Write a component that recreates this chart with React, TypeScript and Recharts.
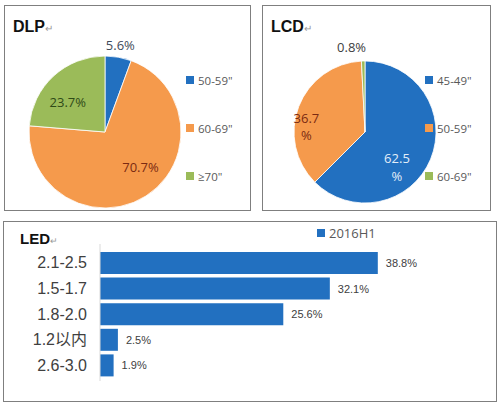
import React from "react";
import { PieChart, Pie, Cell, Legend, BarChart, Bar, XAxis, YAxis, LabelList } from "recharts";

const dlpLabels = ['50-59"', '60-69"', "≥70\""];
const dlpValues = [5.6, 70.7, 23.7];

const lcdLabels = ['45-49"', '50-59"', '60-69"'];
const lcdValues = [62.5, 36.7, 0.8];

const ledCategories = ["2.1-2.5", "1.5-1.7", "1.8-2.0", "1.2以内", "2.6-3.0"];
const ledValues = [38.8, 32.1, 25.6, 2.5, 1.9];
const ledSeriesName = "2016H1";

const BLUE = "#2270c0";
const ORANGE = "#f59a4c";
const GREEN = "#9bbb59";
const sliceColors = [BLUE, ORANGE, GREEN];
const lcdColors = [BLUE, ORANGE, GREEN];

const LABEL_FONT = "'Open Sans', 'Noto Sans', sans-serif";
const TITLE_FONT = "'Liberation Sans', Arial, sans-serif";

const dlpData = dlpLabels.map((name, i) => ({ name, value: dlpValues[i] }));
const lcdData = lcdLabels.map((name, i) => ({ name, value: lcdValues[i] }));
const ledData = ledCategories.map((name, i) => ({ name, value: ledValues[i] }));

// where each slice label sits: [angle in degrees, radius as share of the pie radius]
const dlpLabelSpots: [number, number][] = [[80, 1.16], [-45, 0.66], [141, 0.63]];
const dlpLabelColors = ["#3f4b5a", "#7a2a12", "#2f4a17"];
const lcdLabelSpots: [number, number][] = [[-47, 0.66], [174, 0.83], [99, 1.21]];
const lcdLabelColors = ["#e4eef9", "#7a2a12", "#404040"];
const lcdSplit = [true, true, false];

const RAD = Math.PI / 180;

function makePieLabel(spots: [number, number][], colors: string[], split?: boolean[]) {
  return (props: any) => {
    const { cx, cy, outerRadius, index, value } = props;
    const [ang, k] = spots[index];
    const x = cx + Math.cos(ang * RAD) * outerRadius * k;
    const y = cy - Math.sin(ang * RAD) * outerRadius * k;
    const txt = `${value}%`;
    if (split && split[index]) {
      return (
        <text x={x} y={y} textAnchor="middle" fill={colors[index]} fontSize={13} fontFamily={LABEL_FONT}>
          <tspan x={x} dy="-0.25em">{`${value}`}</tspan>
          <tspan x={x} dy="1.35em">%</tspan>
        </text>
      );
    }
    return (
      <text x={x} y={y} textAnchor="middle" dominantBaseline="central" fill={colors[index]} fontSize={13} fontFamily={LABEL_FONT}>
        {txt}
      </text>
    );
  };
}

function PieLegend({ payload }: any) {
  return (
    <div>
      {(payload || []).map((p: any) => (
        <div key={p.value} style={{ display: "flex", alignItems: "center", height: 48, fontFamily: LABEL_FONT, fontSize: 11.5, color: "#595959" }}>
          <span style={{ width: 8, height: 8, background: p.color, marginRight: 4, display: "inline-block" }} />
          {p.value}
        </div>
      ))}
    </div>
  );
}

function Title({ text, left, top, size }: { text: string; left: number; top: number; size: number }) {
  return (
    <div style={{ position: "absolute", left, top, fontFamily: TITLE_FONT, fontWeight: "bold", fontSize: size, color: "#111", lineHeight: 1 }}>
      {text}
      <span style={{ fontWeight: "normal", fontSize: size * 0.6, color: "#999" }}>↵</span>
    </div>
  );
}

const panel: React.CSSProperties = {
  position: "absolute",
  border: "1.5px solid #7f7f7f",
  background: "#fff",
  boxSizing: "border-box",
};

export default function App() {
  return (
    <div style={{ position: "absolute", left: 0, top: 0, width: 500, height: 406, background: "#fff", overflow: "hidden" }}>
      {/* DLP */}
      <div style={{ ...panel, left: 4, top: 5, width: 247, height: 206 }}>
        <PieChart width={244} height={203}>
          <Pie
            data={dlpData}
            dataKey="value"
            nameKey="name"
            cx={95}
            cy={121}
            outerRadius={76}
            startAngle={90}
            endAngle={-270}
            stroke="#fff"
            strokeWidth={0.8}
            labelLine={false}
            label={makePieLabel(dlpLabelSpots, dlpLabelColors)}
            isAnimationActive={false}
          >
            {dlpData.map((d, i) => (
              <Cell key={d.name} fill={sliceColors[i]} />
            ))}
          </Pie>
          <Legend layout="vertical" content={<PieLegend />} wrapperStyle={{ left: 181, top: 50, width: 60 }} />
        </PieChart>
        <Title text="DLP" left={8} top={13} size={16} />
      </div>

      {/* LCD */}
      <div style={{ ...panel, left: 262, top: 5, width: 229, height: 206 }}>
        <PieChart width={226} height={203}>
          <Pie
            data={lcdData}
            dataKey="value"
            nameKey="name"
            cx={97}
            cy={121}
            outerRadius={71}
            startAngle={90}
            endAngle={-270}
            stroke="#fff"
            strokeWidth={0.8}
            labelLine={false}
            label={makePieLabel(lcdLabelSpots, lcdLabelColors, lcdSplit)}
            isAnimationActive={false}
          >
            {lcdData.map((d, i) => (
              <Cell key={d.name} fill={lcdColors[i]} />
            ))}
          </Pie>
          <Legend layout="vertical" content={<PieLegend />} wrapperStyle={{ left: 162, top: 50, width: 60 }} />
        </PieChart>
        <Title text="LCD" left={8} top={13} size={16} />
      </div>

      {/* LED */}
      <div style={{ ...panel, left: 3, top: 221, width: 494, height: 181 }}>
        <BarChart
          width={491}
          height={178}
          data={ledData}
          layout="vertical"
          margin={{ top: 22, right: 37, bottom: 1, left: 0 }}
        >
          <XAxis type="number" domain={[0, 50]} hide />
          <YAxis
            type="category"
            dataKey="name"
            width={96}
            tickLine={false}
            tickSize={0}
            tickMargin={13}
            axisLine={{ stroke: "#d9d9d9" }}
            padding={{ top: 6, bottom: 3 }}
            tick={{ fontSize: 16, fill: "#404040", fontFamily: "'Liberation Sans', Arial, 'Noto Sans CJK SC', sans-serif" }}
          />
          <Bar dataKey="value" name={ledSeriesName} fill={BLUE} barSize={22} isAnimationActive={false}>
            <LabelList
              dataKey="value"
              position="right"
              offset={8}
              formatter={(v: any) => `${v}%`}
              style={{ fontSize: 11, fill: "#404040", fontFamily: TITLE_FONT }}
            />
          </Bar>
          <Legend
            content={({ payload }: any) => (
              <div style={{ display: "flex", alignItems: "center", fontFamily: LABEL_FONT, fontSize: 13, color: "#595959" }}>
                <span style={{ width: 8, height: 8, background: BLUE, marginRight: 4, display: "inline-block" }} />
                {payload && payload[0] ? payload[0].value : ledSeriesName}
              </div>
            )}
            wrapperStyle={{ left: 313, top: 2, width: 100 }}
          />
        </BarChart>
        <Title text="LED" left={16} top={9} size={15} />
      </div>
    </div>
  );
}
